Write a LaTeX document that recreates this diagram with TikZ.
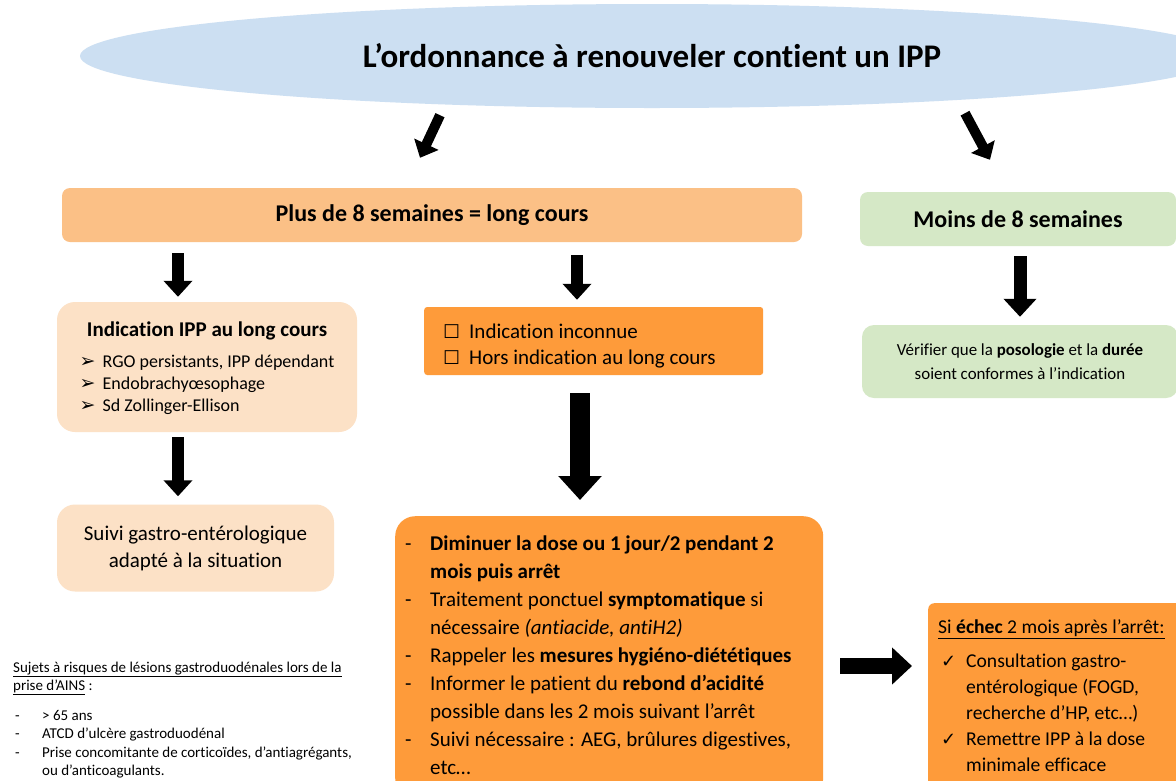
\documentclass[tikz,border=0pt]{standalone}
\usepackage{fontspec}
\setmainfont{Carlito}[Ligatures=NoCommon]
\newfontfamily\symb{DejaVu Sans}
\usetikzlibrary{shapes.geometric,arrows.meta}
\definecolor{ciel}{RGB}{204,223,242}
\definecolor{peche}{RGB}{251,192,134}
\definecolor{pechepale}{RGB}{252,225,198}
\definecolor{orangevif}{RGB}{254,155,58}
\definecolor{vertpale}{RGB}{213,232,198}

\begin{document}
\begin{tikzpicture}[x=1pt,y=-1pt,
    every node/.style = {inner sep=0pt},
    boite/.style = {shape=rectangle, rounded corners=#1, align=center},
    fleche/.style n args = {3}{line width=#1, -{Triangle[width=#2,length=#3]}}]
  \useasboundingbox (0,0) rectangle (1176,780);
  \clip (0,0) rectangle (1176,780);
  \fill[white] (0,0) rectangle (1176,780);

  \node[ellipse, fill=ciel, minimum width=1144pt, minimum height=104pt,
        font=\fontsize{33}{40}\selectfont\bfseries] (titre) at (652,56)
        {L’ordonnance à renouveler contient un IPP};

  % les deux durees
  \node[boite=8pt, fill=peche, minimum width=740pt, minimum height=54pt,
        font=\fontsize{24}{29}\selectfont\bfseries] (long) at (432,215)
        {Plus de 8 semaines = long cours};
  \node[boite=8pt, fill=vertpale, minimum width=316pt, minimum height=54pt,
        font=\fontsize{24}{29}\selectfont\bfseries] (court) at (1018,219)
        {Moins de 8 semaines};

  \node[boite=18pt, fill=pechepale, minimum width=300pt, minimum height=130pt,
        font=\fontsize{18}{22}\selectfont] (ind) at (207,367)
        {\begin{tabular}{@{}l@{}l@{}}
          \multicolumn{2}{@{}c@{}}{\rule{0pt}{21.4pt}\fontsize{21}{26}\selectfont\bfseries Indication IPP au long cours}\\[9pt]
          \makebox[23pt][l]{\symb\fontsize{19}{22}\selectfont ➢} & RGO persistants, IPP dépendant\\
          \makebox[23pt][l]{\symb\fontsize{19}{22}\selectfont ➢} & Endobrachyœsophage\\
          \makebox[23pt][l]{\symb\fontsize{19}{22}\selectfont ➢} & Sd Zollinger-Ellison
        \end{tabular}};
  \node[boite=3pt, fill=orangevif, anchor=west, inner xsep=19pt, minimum height=68pt,
        font=\fontsize{21}{26}\selectfont] (inconnu) at (424,341)
        {\begin{tabular}{@{}p{26pt}@{}p{275pt}@{}}
          \rule{0pt}{28.2pt}{\symb\fontsize{19}{26}\selectfont ☐} & Indication inconnue\\
          {\symb\fontsize{19}{26}\selectfont ☐} & Hors indication au long cours
        \end{tabular}};
  \node[boite=12pt, fill=vertpale, minimum width=316pt, minimum height=73pt,
        font=\fontsize{16.9}{24}\selectfont] (verif) at (1020,361.5)
        {Vérifier que la \textbf{posologie} et la \textbf{durée}\\soient conformes à l’indication};

  \node[boite=18pt, fill=pechepale, minimum width=277pt, minimum height=87pt,
        font=\fontsize{21}{27}\selectfont] (suivi) at (195.5,548)
        {Suivi gastro-entérologique\\adapté à la situation};

  \node[boite=20pt, fill=orangevif, anchor=north west, inner xsep=10pt, inner ysep=15pt,
        font=\fontsize{21}{28}\selectfont] (action) at (395,516)
        {\begin{tabular}{@{}p{25pt}@{}p{383pt}@{}}
          - & \textbf{Diminuer la dose ou 1 jour/2 pendant 2}\\
            & \textbf{mois puis arrêt}\\
          - & Traitement ponctuel \textbf{symptomatique} si\\
            & nécessaire \textit{(antiacide, antiH2)}\\
          - & Rappeler les \textbf{mesures hygiéno-diététiques}\\
          - & Informer le patient du \textbf{rebond d’acidité}\\
            & possible dans les 2 mois suivant l’arrêt\\
          - & Suivi nécessaire : AEG, brûlures digestives,\\
            & etc…
        \end{tabular}};
  \node[boite=6pt, fill=orangevif, anchor=north west, inner xsep=10pt, inner ysep=12.5pt,
        font=\fontsize{19.6}{26}\selectfont] (echec) at (928,603)
        {\begin{tabular}{@{}p{28pt}@{}p{230pt}@{}}
          \multicolumn{2}{@{}l@{}}{\underline{Si \textbf{échec} 2 mois après l’arrêt:}}\\[8pt]
          \hspace{3pt}{\symb\fontsize{18}{26}\selectfont ✓} & Consultation gastro-\\
            & entérologique (FOGD,\\
            & recherche d’HP, etc…)\\
          \hspace{3pt}{\symb\fontsize{18}{26}\selectfont ✓} & Remettre IPP à la dose\\
            & minimale efficace
        \end{tabular}};

  \node[anchor=base west, font=\fontsize{15}{18.3}\selectfont] (risques) at (13,672)
        {\begin{tabular}[t]{@{}p{29pt}@{}l@{}}
          \multicolumn{2}{@{}l@{}}{\underline{Sujets à risques de lésions gastroduodénales lors de la}}\\
          \multicolumn{2}{@{}l@{}}{\underline{prise d’AINS} :}\\[12pt]
          \hspace{2pt}- & > 65 ans\\
          \hspace{2pt}- & ATCD d’ulcère gastroduodénal\\
          \hspace{2pt}- & Prise concomitante de corticoïdes, d’antiagrégants,\\
            & ou d’anticoagulants.
        \end{tabular}};

  % fleches
  \draw[fleche={10pt}{26pt}{15pt}] ([shift={(-212,7)}]titre.south) -- ([shift={(-12,-30)}]long.north);
  \draw[fleche={10pt}{26pt}{15pt}] ([shift={(313,5)}]titre.south) -- ([shift={(-28,-32)}]court.north);
  \draw[fleche={12pt}{28pt}{16pt}, shorten <=11pt, shorten >=5pt] (178,0 |- long.south) -- (178,0 |- ind.north);
  \draw[fleche={12pt}{28pt}{16pt}, shorten <=13pt, shorten >=7pt] (577,0 |- long.south) -- (577,0 |- inconnu.north);
  \draw[fleche={13pt}{32pt}{18pt}, shorten <=10pt, shorten >=8pt] (1020,0 |- court.south) -- (1020,0 |- verif.north);
  \draw[fleche={12pt}{28pt}{16pt}, shorten <=5pt, shorten >=8pt] (178,0 |- ind.south) -- (178,0 |- suivi.north);
  \draw[fleche={20pt}{42pt}{24pt}, shorten <=18pt, shorten >=16pt] (580,0 |- inconnu.south) -- (580,0 |- action.north);
  \draw[fleche={16pt}{36pt}{20pt}, shorten <=17pt, shorten >=16pt] (action.east |- 0,666) -- (echec.west |- 0,666);
\end{tikzpicture}
\end{document}
